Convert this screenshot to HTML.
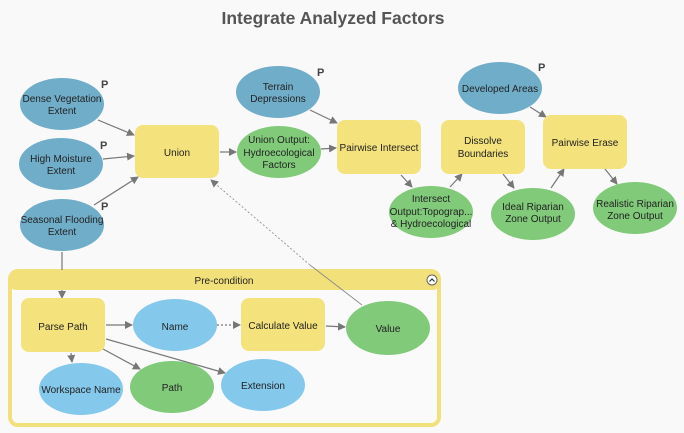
<!DOCTYPE html>
<html><head><meta charset="utf-8">
<style>
html,body{margin:0;padding:0;background:#f9f9f9;}
svg{display:block;}
text{font-family:"Liberation Sans",sans-serif;font-size:10px;fill:#222;text-anchor:middle;}
.t{font-family:"Liberation Sans",sans-serif;font-weight:bold;font-size:17.5px;fill:#555;}
.p{font-size:11px;font-weight:bold;fill:#444;text-anchor:start;}
.b{fill:#70adc9;}
.g{fill:#80ca7a;}
.y{fill:#f4e27c;}
.lb{fill:#84c9ec;}
.l{stroke:#777;stroke-width:1.2;fill:none;marker-end:url(#a);}
</style></head><body>
<svg width="684" height="433" viewBox="0 0 684 433">
<defs><marker id="a" markerWidth="8" markerHeight="8" refX="7" refY="4" orient="auto" markerUnits="userSpaceOnUse"><path d="M0,0 L8,4 L0,8 z" fill="#777"/></marker></defs>
<rect width="684" height="433" fill="#f9f9f9"/>
<text class="t" x="333" y="24">Integrate Analyzed Factors</text>

<rect x="10" y="271" width="429" height="154" rx="8" fill="#fafafa" stroke="#f2e07a" stroke-width="4"/>
<rect x="10" y="271" width="429" height="19" rx="6" fill="#f2e07a"/>
<text x="224" y="284">Pre-condition</text>
<circle cx="432" cy="280" r="5" fill="#fff" stroke="#666" stroke-width="1"/>
<path d="M429.5,281.5 L432,279 L434.5,281.5" stroke="#333" stroke-width="1.2" fill="none"/>

<line class="l" x1="98" y1="120" x2="134" y2="135"/>
<line class="l" x1="103" y1="159" x2="134" y2="156"/>
<line class="l" x1="94" y1="205" x2="138" y2="177"/>
<line class="l" x1="220" y1="152" x2="236" y2="152"/>
<line class="l" x1="321" y1="149" x2="336" y2="148"/>
<line class="l" x1="310" y1="110" x2="337" y2="123"/>
<line class="l" x1="401" y1="175" x2="412" y2="187"/>
<line class="l" x1="450" y1="187" x2="462" y2="174"/>
<line class="l" x1="503" y1="174" x2="514" y2="188"/>
<line class="l" x1="551" y1="188" x2="564" y2="169"/>
<line class="l" x1="530" y1="107" x2="546" y2="117"/>
<line class="l" x1="605" y1="169" x2="617" y2="184"/>
<line x1="62" y1="252" x2="62" y2="270" stroke="#777" stroke-width="1.2"/>
<line class="l" x1="62" y1="290" x2="62" y2="298"/>
<line x1="362" y1="305" x2="310" y2="265" stroke="#888" stroke-width="0.8"/>
<line x1="310" y1="265" x2="211" y2="180" stroke="#888" stroke-width="0.8" stroke-dasharray="2,2" marker-end="url(#a)"/>
<line class="l" x1="106" y1="325" x2="132" y2="325"/>
<line class="l" x1="217" y1="325" x2="240" y2="325" stroke-dasharray="2,2"/>
<line class="l" x1="326" y1="326" x2="345" y2="327"/>
<line class="l" x1="71" y1="353" x2="72" y2="362"/>
<line class="l" x1="103" y1="349" x2="140" y2="369"/>
<line class="l" x1="106" y1="339" x2="225" y2="373"/>

<ellipse class="b" cx="62" cy="104" rx="42" ry="26"/>
<text x="62" y="102">Dense Vegetation</text><text x="62" y="114">Extent</text>
<text class="p" x="101" y="88">P</text>
<ellipse class="b" cx="61" cy="164" rx="42" ry="26"/>
<text x="61" y="162">High Moisture</text><text x="61" y="174">Extent</text>
<text class="p" x="100" y="149">P</text>
<ellipse class="b" cx="62" cy="225" rx="42" ry="26"/>
<text x="62" y="223">Seasonal Flooding</text><text x="62" y="235">Extent</text>
<text class="p" x="101" y="210">P</text>
<ellipse class="b" cx="278" cy="92" rx="42" ry="26"/>
<text x="278" y="90">Terrain</text><text x="278" y="102">Depressions</text>
<text class="p" x="317" y="76">P</text>
<ellipse class="b" cx="500" cy="88" rx="42" ry="26"/>
<text x="500" y="92">Developed Areas</text>
<text class="p" x="538" y="71">P</text>

<rect class="y" x="135" y="125" width="84" height="53" rx="8"/>
<text x="177" y="156">Union</text>
<rect class="y" x="337" y="120" width="84" height="54" rx="8"/>
<text x="379" y="151">Pairwise Intersect</text>
<rect class="y" x="441" y="120" width="84" height="54" rx="8"/>
<text x="483" y="144">Dissolve</text><text x="483" y="157">Boundaries</text>
<rect class="y" x="543" y="115" width="84" height="54" rx="8"/>
<text x="585" y="146">Pairwise Erase</text>

<ellipse class="g" cx="279" cy="152" rx="42" ry="26"/>
<text x="279" y="143">Union Output:</text><text x="279" y="156">Hydroecological</text><text x="279" y="168">Factors</text>
<ellipse class="g" cx="431" cy="212" rx="42" ry="26"/>
<text x="431" y="202">Intersect</text><text x="431" y="215">Output:Topograp...</text><text x="431" y="227">&amp; Hydroecological</text>
<ellipse class="g" cx="533" cy="214" rx="42" ry="26"/>
<text x="533" y="210">Ideal Riparian</text><text x="533" y="222">Zone Output</text>
<ellipse class="g" cx="635" cy="208" rx="42" ry="26"/>
<text x="635" y="207">Realistic Riparian</text><text x="635" y="219">Zone Output</text>

<rect class="y" x="21" y="298" width="84" height="54" rx="8"/>
<text x="63" y="330">Parse Path</text>
<ellipse class="lb" cx="175" cy="325" rx="42" ry="26"/>
<text x="175" y="330">Name</text>
<rect class="y" x="241" y="298" width="84" height="53" rx="8"/>
<text x="283" y="329">Calculate Value</text>
<ellipse class="g" cx="388" cy="328" rx="42" ry="27"/>
<text x="388" y="332">Value</text>
<ellipse class="lb" cx="81" cy="389" rx="42" ry="26"/>
<text x="81" y="393">Workspace Name</text>
<ellipse class="g" cx="172" cy="387" rx="42" ry="26"/>
<text x="172" y="391">Path</text>
<ellipse class="lb" cx="263" cy="385" rx="42" ry="26"/>
<text x="263" y="389">Extension</text>
</svg>
</body></html>
